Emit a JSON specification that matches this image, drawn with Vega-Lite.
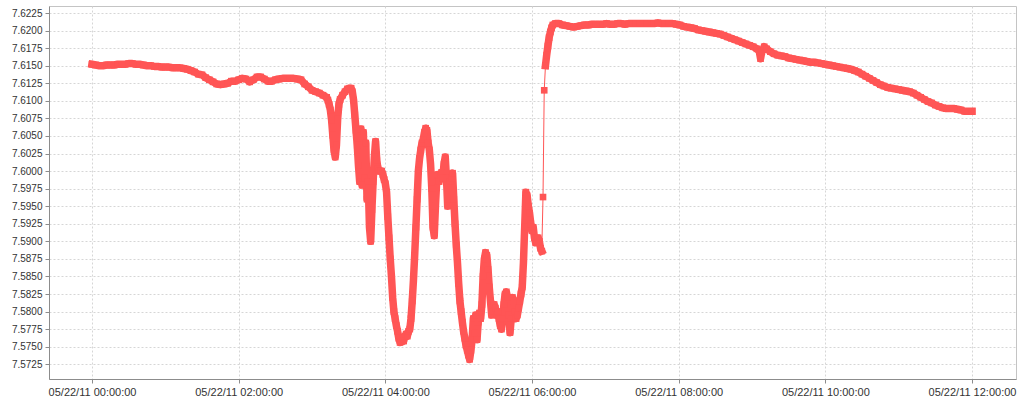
{
  "$schema": "https://vega.github.io/schema/vega-lite/v6.json",
  "width": 967,
  "height": 373,
  "autosize": {"type": "none"},
  "padding": {"left": 49, "top": 6, "right": 8, "bottom": 21},
  "background": "white",
  "view": {"stroke": "#c4c4c4", "strokeWidth": 1},
  "config": {
    "axis": {
      "labelFont": "Liberation Sans",
      "labelFontSize": 10,
      "labelColor": "#333333",
      "domainColor": "#8c8c8c",
      "tickColor": "#8c8c8c",
      "tickSize": 4,
      "grid": true,
      "gridColor": "#d6d6d6",
      "gridDash": [2, 2],
      "gridWidth": 1,
      "labelOverlap": false,
      "labelFlush": false
    }
  },
  "data": {"values": [
    {"t":"2011-05-22T00:00","v":7.6152},{"t":"2011-05-22T00:03","v":7.6151},{"t":"2011-05-22T00:06","v":7.6150},{"t":"2011-05-22T00:09","v":7.6150},
    {"t":"2011-05-22T00:12","v":7.6151},{"t":"2011-05-22T00:15","v":7.6151},{"t":"2011-05-22T00:18","v":7.6151},{"t":"2011-05-22T00:21","v":7.6152},
    {"t":"2011-05-22T00:24","v":7.6152},{"t":"2011-05-22T00:27","v":7.6152},{"t":"2011-05-22T00:30","v":7.6153},{"t":"2011-05-22T00:33","v":7.6153},
    {"t":"2011-05-22T00:36","v":7.6152},{"t":"2011-05-22T00:39","v":7.6152},{"t":"2011-05-22T00:42","v":7.6151},{"t":"2011-05-22T00:45","v":7.6150},
    {"t":"2011-05-22T00:48","v":7.6150},{"t":"2011-05-22T00:51","v":7.6149},{"t":"2011-05-22T00:54","v":7.6149},{"t":"2011-05-22T00:57","v":7.6148},
    {"t":"2011-05-22T01:00","v":7.6148},{"t":"2011-05-22T01:03","v":7.6148},{"t":"2011-05-22T01:06","v":7.6147},{"t":"2011-05-22T01:09","v":7.6147},
    {"t":"2011-05-22T01:12","v":7.6147},{"t":"2011-05-22T01:15","v":7.6146},{"t":"2011-05-22T01:18","v":7.6145},{"t":"2011-05-22T01:21","v":7.6143},
    {"t":"2011-05-22T01:24","v":7.6141},{"t":"2011-05-22T01:27","v":7.6138},{"t":"2011-05-22T01:30","v":7.6137},{"t":"2011-05-22T01:33","v":7.6133},
    {"t":"2011-05-22T01:36","v":7.6130},{"t":"2011-05-22T01:39","v":7.6127},{"t":"2011-05-22T01:42","v":7.6124},{"t":"2011-05-22T01:45","v":7.6123},
    {"t":"2011-05-22T01:48","v":7.6124},{"t":"2011-05-22T01:51","v":7.6125},{"t":"2011-05-22T01:54","v":7.6128},{"t":"2011-05-22T01:57","v":7.6128},
    {"t":"2011-05-22T02:00","v":7.6130},{"t":"2011-05-22T02:03","v":7.6132},{"t":"2011-05-22T02:06","v":7.6131},{"t":"2011-05-22T02:09","v":7.6127},
    {"t":"2011-05-22T02:12","v":7.6130},{"t":"2011-05-22T02:15","v":7.6134},{"t":"2011-05-22T02:18","v":7.6134},{"t":"2011-05-22T02:21","v":7.6131},
    {"t":"2011-05-22T02:24","v":7.6128},{"t":"2011-05-22T02:27","v":7.6128},{"t":"2011-05-22T02:30","v":7.6130},{"t":"2011-05-22T02:33","v":7.6131},
    {"t":"2011-05-22T02:36","v":7.6132},{"t":"2011-05-22T02:39","v":7.6132},{"t":"2011-05-22T02:42","v":7.6132},{"t":"2011-05-22T02:45","v":7.6132},
    {"t":"2011-05-22T02:48","v":7.6131},{"t":"2011-05-22T02:51","v":7.6130},{"t":"2011-05-22T02:54","v":7.6124},{"t":"2011-05-22T02:57","v":7.6120},
    {"t":"2011-05-22T03:00","v":7.6115},{"t":"2011-05-22T03:03","v":7.6113},{"t":"2011-05-22T03:06","v":7.6111},{"t":"2011-05-22T03:09","v":7.6108},
    {"t":"2011-05-22T03:12","v":7.6105},{"t":"2011-05-22T03:13","v":7.6101},{"t":"2011-05-22T03:14","v":7.6095},{"t":"2011-05-22T03:15","v":7.6087},
    {"t":"2011-05-22T03:16","v":7.6073},{"t":"2011-05-22T03:17","v":7.6051},{"t":"2011-05-22T03:18","v":7.6030},{"t":"2011-05-22T03:19","v":7.6020},
    {"t":"2011-05-22T03:20","v":7.6037},{"t":"2011-05-22T03:21","v":7.6075},{"t":"2011-05-22T03:22","v":7.6095},{"t":"2011-05-22T03:23","v":7.6102},
    {"t":"2011-05-22T03:25","v":7.6108},{"t":"2011-05-22T03:27","v":7.6113},{"t":"2011-05-22T03:29","v":7.6117},{"t":"2011-05-22T03:31","v":7.6118},
    {"t":"2011-05-22T03:32","v":7.6118},{"t":"2011-05-22T03:33","v":7.6113},{"t":"2011-05-22T03:34","v":7.6101},{"t":"2011-05-22T03:35","v":7.6080},
    {"t":"2011-05-22T03:36","v":7.6058},{"t":"2011-05-22T03:37","v":7.6037},{"t":"2011-05-22T03:38","v":7.6008},{"t":"2011-05-22T03:39","v":7.5985},
    {"t":"2011-05-22T03:40","v":7.6060},{"t":"2011-05-22T03:41","v":7.5980},{"t":"2011-05-22T03:42","v":7.6055},{"t":"2011-05-22T03:43","v":7.5990},
    {"t":"2011-05-22T03:44","v":7.6040},{"t":"2011-05-22T03:45","v":7.5960},{"t":"2011-05-22T03:46","v":7.5985},{"t":"2011-05-22T03:47","v":7.5920},
    {"t":"2011-05-22T03:48","v":7.5900},{"t":"2011-05-22T03:49","v":7.5945},{"t":"2011-05-22T03:50","v":7.5985},{"t":"2011-05-22T03:51","v":7.6020},
    {"t":"2011-05-22T03:52","v":7.6042},{"t":"2011-05-22T03:53","v":7.6015},{"t":"2011-05-22T03:54","v":7.6003},{"t":"2011-05-22T03:55","v":7.6000},
    {"t":"2011-05-22T03:56","v":7.6000},{"t":"2011-05-22T03:57","v":7.6000},{"t":"2011-05-22T03:58","v":7.5995},{"t":"2011-05-22T03:59","v":7.5988},
    {"t":"2011-05-22T04:00","v":7.5982},{"t":"2011-05-22T04:01","v":7.5970},{"t":"2011-05-22T04:02","v":7.5935},{"t":"2011-05-22T04:03","v":7.5905},
    {"t":"2011-05-22T04:04","v":7.5875},{"t":"2011-05-22T04:05","v":7.5850},{"t":"2011-05-22T04:06","v":7.5820},{"t":"2011-05-22T04:07","v":7.5800},
    {"t":"2011-05-22T04:08","v":7.5790},{"t":"2011-05-22T04:09","v":7.5780},{"t":"2011-05-22T04:10","v":7.5772},{"t":"2011-05-22T04:11","v":7.5762},
    {"t":"2011-05-22T04:12","v":7.5756},{"t":"2011-05-22T04:13","v":7.5757},{"t":"2011-05-22T04:14","v":7.5763},{"t":"2011-05-22T04:15","v":7.5758},
    {"t":"2011-05-22T04:16","v":7.5765},{"t":"2011-05-22T04:17","v":7.5768},{"t":"2011-05-22T04:18","v":7.5765},{"t":"2011-05-22T04:19","v":7.5772},
    {"t":"2011-05-22T04:20","v":7.5775},{"t":"2011-05-22T04:21","v":7.5790},{"t":"2011-05-22T04:22","v":7.5815},{"t":"2011-05-22T04:23","v":7.5845},
    {"t":"2011-05-22T04:24","v":7.5880},{"t":"2011-05-22T04:25","v":7.5920},{"t":"2011-05-22T04:26","v":7.5960},{"t":"2011-05-22T04:27","v":7.6000},
    {"t":"2011-05-22T04:28","v":7.6018},{"t":"2011-05-22T04:29","v":7.6030},{"t":"2011-05-22T04:30","v":7.6040},{"t":"2011-05-22T04:31","v":7.6045},
    {"t":"2011-05-22T04:32","v":7.6055},{"t":"2011-05-22T04:33","v":7.6061},{"t":"2011-05-22T04:34","v":7.6058},{"t":"2011-05-22T04:35","v":7.6040},
    {"t":"2011-05-22T04:36","v":7.6030},{"t":"2011-05-22T04:37","v":7.6010},{"t":"2011-05-22T04:38","v":7.5975},{"t":"2011-05-22T04:39","v":7.5920},
    {"t":"2011-05-22T04:40","v":7.5908},{"t":"2011-05-22T04:41","v":7.5950},{"t":"2011-05-22T04:42","v":7.5985},{"t":"2011-05-22T04:43","v":7.5995},
    {"t":"2011-05-22T04:44","v":7.5985},{"t":"2011-05-22T04:45","v":7.5995},{"t":"2011-05-22T04:46","v":7.5998},{"t":"2011-05-22T04:47","v":7.5990},
    {"t":"2011-05-22T04:48","v":7.6010},{"t":"2011-05-22T04:49","v":7.6020},{"t":"2011-05-22T04:50","v":7.5990},{"t":"2011-05-22T04:51","v":7.5950},
    {"t":"2011-05-22T04:52","v":7.5960},{"t":"2011-05-22T04:53","v":7.5985},{"t":"2011-05-22T04:54","v":7.5990},{"t":"2011-05-22T04:55","v":7.5997},
    {"t":"2011-05-22T04:56","v":7.5960},{"t":"2011-05-22T04:57","v":7.5925},{"t":"2011-05-22T04:58","v":7.5895},{"t":"2011-05-22T04:59","v":7.5870},
    {"t":"2011-05-22T05:00","v":7.5840},{"t":"2011-05-22T05:01","v":7.5815},{"t":"2011-05-22T05:02","v":7.5800},{"t":"2011-05-22T05:03","v":7.5785},
    {"t":"2011-05-22T05:04","v":7.5772},{"t":"2011-05-22T05:05","v":7.5762},{"t":"2011-05-22T05:06","v":7.5752},{"t":"2011-05-22T05:07","v":7.5745},
    {"t":"2011-05-22T05:08","v":7.5738},{"t":"2011-05-22T05:09","v":7.5732},{"t":"2011-05-22T05:10","v":7.5745},{"t":"2011-05-22T05:11","v":7.5760},
    {"t":"2011-05-22T05:12","v":7.5790},{"t":"2011-05-22T05:13","v":7.5770},{"t":"2011-05-22T05:14","v":7.5795},{"t":"2011-05-22T05:15","v":7.5760},
    {"t":"2011-05-22T05:16","v":7.5785},{"t":"2011-05-22T05:17","v":7.5798},{"t":"2011-05-22T05:18","v":7.5790},{"t":"2011-05-22T05:19","v":7.5810},
    {"t":"2011-05-22T05:20","v":7.5850},{"t":"2011-05-22T05:21","v":7.5875},{"t":"2011-05-22T05:22","v":7.5884},{"t":"2011-05-22T05:23","v":7.5880},
    {"t":"2011-05-22T05:24","v":7.5860},{"t":"2011-05-22T05:25","v":7.5835},{"t":"2011-05-22T05:26","v":7.5815},{"t":"2011-05-22T05:27","v":7.5795},
    {"t":"2011-05-22T05:28","v":7.5800},{"t":"2011-05-22T05:29","v":7.5810},{"t":"2011-05-22T05:30","v":7.5805},{"t":"2011-05-22T05:31","v":7.5795},
    {"t":"2011-05-22T05:32","v":7.5800},{"t":"2011-05-22T05:33","v":7.5790},{"t":"2011-05-22T05:34","v":7.5780},{"t":"2011-05-22T05:35","v":7.5775},
    {"t":"2011-05-22T05:36","v":7.5790},{"t":"2011-05-22T05:37","v":7.5810},{"t":"2011-05-22T05:38","v":7.5825},{"t":"2011-05-22T05:39","v":7.5828},
    {"t":"2011-05-22T05:40","v":7.5820},{"t":"2011-05-22T05:41","v":7.5795},{"t":"2011-05-22T05:42","v":7.5770},{"t":"2011-05-22T05:43","v":7.5790},
    {"t":"2011-05-22T05:44","v":7.5820},{"t":"2011-05-22T05:45","v":7.5815},{"t":"2011-05-22T05:46","v":7.5800},{"t":"2011-05-22T05:47","v":7.5790},
    {"t":"2011-05-22T05:48","v":7.5795},{"t":"2011-05-22T05:49","v":7.5805},{"t":"2011-05-22T05:50","v":7.5815},{"t":"2011-05-22T05:51","v":7.5825},
    {"t":"2011-05-22T05:52","v":7.5835},{"t":"2011-05-22T05:53","v":7.5870},{"t":"2011-05-22T05:54","v":7.5920},{"t":"2011-05-22T05:55","v":7.5970},
    {"t":"2011-05-22T05:56","v":7.5965},{"t":"2011-05-22T05:57","v":7.5950},{"t":"2011-05-22T05:58","v":7.5940},{"t":"2011-05-22T05:59","v":7.5925},
    {"t":"2011-05-22T06:00","v":7.5915},{"t":"2011-05-22T06:01","v":7.5920},{"t":"2011-05-22T06:02","v":7.5905},{"t":"2011-05-22T06:03","v":7.5898},
    {"t":"2011-05-22T06:04","v":7.5900},{"t":"2011-05-22T06:05","v":7.5905},{"t":"2011-05-22T06:06","v":7.5900},{"t":"2011-05-22T06:07","v":7.5890},
    {"t":"2011-05-22T06:08","v":7.5886},{"t":"2011-05-22T06:09","v":7.5963},{"t":"2011-05-22T06:10","v":7.6115},{"t":"2011-05-22T06:11","v":7.6150},
    {"t":"2011-05-22T06:12","v":7.6165},{"t":"2011-05-22T06:13","v":7.6178},{"t":"2011-05-22T06:14","v":7.6190},{"t":"2011-05-22T06:15","v":7.6198},
    {"t":"2011-05-22T06:16","v":7.6204},{"t":"2011-05-22T06:17","v":7.6208},{"t":"2011-05-22T06:19","v":7.6210},{"t":"2011-05-22T06:22","v":7.6210},
    {"t":"2011-05-22T06:25","v":7.6208},{"t":"2011-05-22T06:28","v":7.6207},{"t":"2011-05-22T06:31","v":7.6206},{"t":"2011-05-22T06:34","v":7.6205},
    {"t":"2011-05-22T06:37","v":7.6206},{"t":"2011-05-22T06:40","v":7.6207},{"t":"2011-05-22T06:43","v":7.6208},{"t":"2011-05-22T06:46","v":7.6208},
    {"t":"2011-05-22T06:49","v":7.6209},{"t":"2011-05-22T06:52","v":7.6209},{"t":"2011-05-22T06:55","v":7.6209},{"t":"2011-05-22T06:58","v":7.6209},
    {"t":"2011-05-22T07:01","v":7.6210},{"t":"2011-05-22T07:04","v":7.6209},{"t":"2011-05-22T07:07","v":7.6209},{"t":"2011-05-22T07:10","v":7.6210},
    {"t":"2011-05-22T07:13","v":7.6210},{"t":"2011-05-22T07:16","v":7.6209},{"t":"2011-05-22T07:19","v":7.6210},{"t":"2011-05-22T07:22","v":7.6210},
    {"t":"2011-05-22T07:25","v":7.6210},{"t":"2011-05-22T07:28","v":7.6210},{"t":"2011-05-22T07:31","v":7.6210},{"t":"2011-05-22T07:34","v":7.6210},
    {"t":"2011-05-22T07:37","v":7.6210},{"t":"2011-05-22T07:40","v":7.6210},{"t":"2011-05-22T07:43","v":7.6211},{"t":"2011-05-22T07:46","v":7.6210},
    {"t":"2011-05-22T07:49","v":7.6210},{"t":"2011-05-22T07:52","v":7.6210},{"t":"2011-05-22T07:55","v":7.6210},{"t":"2011-05-22T07:58","v":7.6209},
    {"t":"2011-05-22T08:01","v":7.6208},{"t":"2011-05-22T08:04","v":7.6206},{"t":"2011-05-22T08:07","v":7.6205},{"t":"2011-05-22T08:10","v":7.6204},
    {"t":"2011-05-22T08:13","v":7.6203},{"t":"2011-05-22T08:16","v":7.6201},{"t":"2011-05-22T08:19","v":7.6200},{"t":"2011-05-22T08:22","v":7.6199},
    {"t":"2011-05-22T08:25","v":7.6198},{"t":"2011-05-22T08:28","v":7.6197},{"t":"2011-05-22T08:31","v":7.6196},{"t":"2011-05-22T08:34","v":7.6195},
    {"t":"2011-05-22T08:37","v":7.6193},{"t":"2011-05-22T08:40","v":7.6191},{"t":"2011-05-22T08:43","v":7.6189},{"t":"2011-05-22T08:46","v":7.6187},
    {"t":"2011-05-22T08:49","v":7.6185},{"t":"2011-05-22T08:52","v":7.6183},{"t":"2011-05-22T08:55","v":7.6181},{"t":"2011-05-22T08:58","v":7.6179},
    {"t":"2011-05-22T09:01","v":7.6177},{"t":"2011-05-22T09:04","v":7.6174},{"t":"2011-05-22T09:06","v":7.6170},{"t":"2011-05-22T09:07","v":7.6160},
    {"t":"2011-05-22T09:08","v":7.6170},{"t":"2011-05-22T09:10","v":7.6177},{"t":"2011-05-22T09:12","v":7.6174},{"t":"2011-05-22T09:15","v":7.6170},
    {"t":"2011-05-22T09:18","v":7.6167},{"t":"2011-05-22T09:21","v":7.6165},{"t":"2011-05-22T09:24","v":7.6164},{"t":"2011-05-22T09:27","v":7.6163},
    {"t":"2011-05-22T09:30","v":7.6161},{"t":"2011-05-22T09:33","v":7.6160},{"t":"2011-05-22T09:36","v":7.6159},{"t":"2011-05-22T09:39","v":7.6158},
    {"t":"2011-05-22T09:42","v":7.6157},{"t":"2011-05-22T09:45","v":7.6156},{"t":"2011-05-22T09:48","v":7.6155},{"t":"2011-05-22T09:51","v":7.6155},
    {"t":"2011-05-22T09:54","v":7.6154},{"t":"2011-05-22T09:57","v":7.6153},{"t":"2011-05-22T10:00","v":7.6152},{"t":"2011-05-22T10:03","v":7.6151},
    {"t":"2011-05-22T10:06","v":7.6150},{"t":"2011-05-22T10:09","v":7.6149},{"t":"2011-05-22T10:12","v":7.6148},{"t":"2011-05-22T10:15","v":7.6147},
    {"t":"2011-05-22T10:18","v":7.6146},{"t":"2011-05-22T10:21","v":7.6145},{"t":"2011-05-22T10:24","v":7.6143},{"t":"2011-05-22T10:27","v":7.6141},
    {"t":"2011-05-22T10:30","v":7.6138},{"t":"2011-05-22T10:33","v":7.6135},{"t":"2011-05-22T10:36","v":7.6132},{"t":"2011-05-22T10:39","v":7.6129},
    {"t":"2011-05-22T10:42","v":7.6126},{"t":"2011-05-22T10:45","v":7.6123},{"t":"2011-05-22T10:48","v":7.6121},{"t":"2011-05-22T10:51","v":7.6119},
    {"t":"2011-05-22T10:54","v":7.6118},{"t":"2011-05-22T10:57","v":7.6117},{"t":"2011-05-22T11:00","v":7.6116},{"t":"2011-05-22T11:03","v":7.6115},
    {"t":"2011-05-22T11:06","v":7.6114},{"t":"2011-05-22T11:09","v":7.6113},{"t":"2011-05-22T11:12","v":7.6111},{"t":"2011-05-22T11:15","v":7.6108},
    {"t":"2011-05-22T11:18","v":7.6105},{"t":"2011-05-22T11:21","v":7.6102},{"t":"2011-05-22T11:24","v":7.6099},{"t":"2011-05-22T11:27","v":7.6097},
    {"t":"2011-05-22T11:30","v":7.6094},{"t":"2011-05-22T11:33","v":7.6092},{"t":"2011-05-22T11:36","v":7.6090},{"t":"2011-05-22T11:39","v":7.6089},
    {"t":"2011-05-22T11:42","v":7.6089},{"t":"2011-05-22T11:45","v":7.6089},{"t":"2011-05-22T11:48","v":7.6088},{"t":"2011-05-22T11:51","v":7.6087},
    {"t":"2011-05-22T11:54","v":7.6085},{"t":"2011-05-22T11:57","v":7.6085},{"t":"2011-05-22T12:00","v":7.6085}
  ]},
  "encoding": {
    "x": {
      "field": "t", "type": "temporal", "title": null,
      "scale": {"domain": [{"year": 2011, "month": 5, "date": 21, "hours": 23, "minutes": 24, "seconds": 48}, {"year": 2011, "month": 5, "date": 22, "hours": 12, "minutes": 36}], "nice": false},
      "axis": {"format": "%m/%d/%y %H:%M:%S", "labelPadding": 3, "labelFontSize": 11,
        "values": [
          {"year": 2011, "month": 5, "date": 22, "hours": 0},
          {"year": 2011, "month": 5, "date": 22, "hours": 2},
          {"year": 2011, "month": 5, "date": 22, "hours": 4},
          {"year": 2011, "month": 5, "date": 22, "hours": 6},
          {"year": 2011, "month": 5, "date": 22, "hours": 8},
          {"year": 2011, "month": 5, "date": 22, "hours": 10},
          {"year": 2011, "month": 5, "date": 22, "hours": 12}
        ]}
    },
    "y": {
      "field": "v", "type": "quantitative", "title": null,
      "scale": {"domain": [7.5704, 7.6235], "nice": false, "zero": false},
      "axis": {"format": ".4f", "labelPadding": 3, "values": [7.5725, 7.575, 7.5775, 7.58, 7.5825, 7.585, 7.5875, 7.59, 7.5925, 7.595, 7.5975, 7.6, 7.6025, 7.605, 7.6075, 7.61, 7.6125, 7.615, 7.6175, 7.62, 7.6225]}
    }
  },
  "layer": [
    {"mark": {"type": "line", "color": "#ff5555", "strokeWidth": 1}},
    {
      "transform": [{"filter": {"field": "t", "lte": {"year": 2011, "month": 5, "date": 22, "hours": 6, "minutes": 8}}}],
      "mark": {"type": "line", "color": "#ff5555", "strokeWidth": 7.5, "strokeJoin": "round", "strokeCap": "square"}
    },
    {
      "transform": [{"filter": {"field": "t", "gte": {"year": 2011, "month": 5, "date": 22, "hours": 6, "minutes": 11}}}],
      "mark": {"type": "line", "color": "#ff5555", "strokeWidth": 7.5, "strokeJoin": "round", "strokeCap": "square"}
    },
    {"mark": {"type": "square", "color": "#ff5555", "filled": true, "opacity": 1, "size": 44}}
  ]
}
